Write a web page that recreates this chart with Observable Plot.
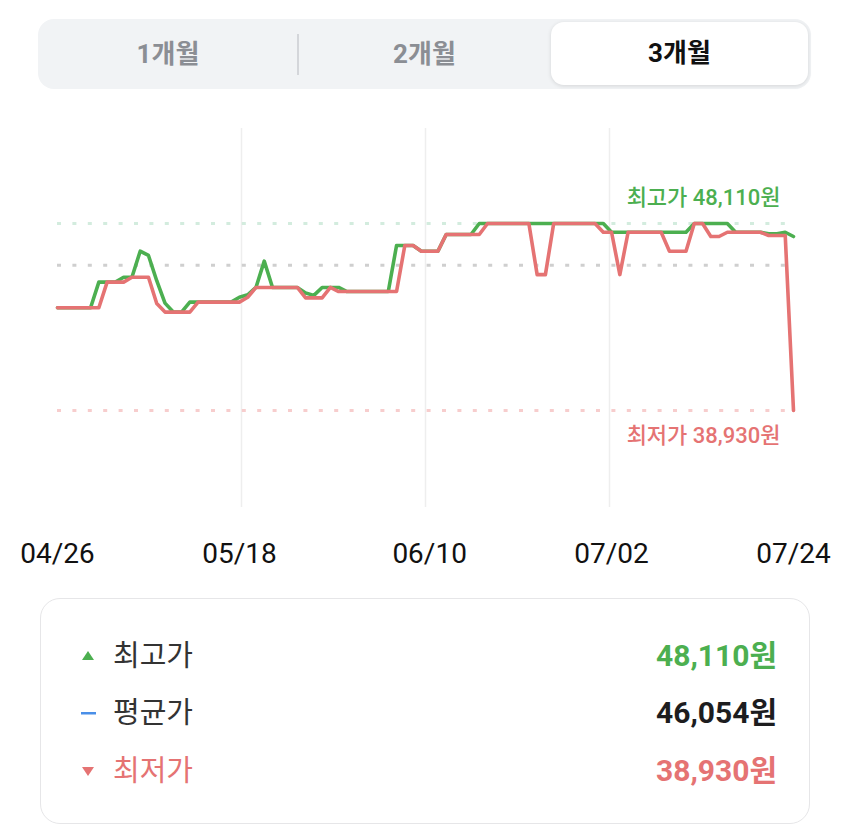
<!DOCTYPE html>
<html><head><meta charset="utf-8">
<script src="https://cdn.jsdelivr.net/npm/d3@7"></script>
<script src="https://cdn.jsdelivr.net/npm/@observablehq/plot@0.6"></script>
<style>
body{margin:0;background:#fff;font-family:Roboto,"Noto Sans CJK KR",sans-serif;}
#wrap{position:relative;width:850px;height:824px;overflow:hidden;background:#fff;}
.tabs{position:absolute;left:38px;top:19px;width:773px;height:70px;background:#f1f3f5;border-radius:16px;}
.tab{position:absolute;top:0;height:70px;line-height:70px;text-align:center;font-size:26px;font-weight:700;color:#8b8e94;}
.tab.sel{background:#fff;border-radius:13px;top:3px;height:63px;line-height:63px;color:#111;box-shadow:0 1px 4px rgba(0,0,0,0.12);}
.divider{position:absolute;left:259px;top:15px;width:1.5px;height:41px;background:#d4d6da;}
#chart{position:absolute;left:0;top:100px;}
.legend{position:absolute;left:40px;top:598px;width:770px;height:226px;box-sizing:border-box;border:1.5px solid #e6e6e8;border-radius:20px;}
.row{position:absolute;left:0;width:100%;height:40px;}
.icon{position:absolute;left:40px;top:14px;}
.lab{position:absolute;left:72px;top:0;font-size:29px;line-height:40px;color:#333;}
.val{position:absolute;right:32px;top:0;font-size:30px;line-height:40px;font-weight:700;}
</style></head>
<body><div id="wrap">
<div class="tabs" id="tabs"></div>
<div id="chart"></div>
<div class="legend" id="legend"></div>
</div>
<script>
// ---- data ----
const tabLabels = ["1개월", "2개월", "3개월"];
const startDate = "2024-04-26";
const endDate = "2024-07-24";
const tickLabels = ["04/26", "05/18", "06/10", "07/02", "07/24"];
const lineGreen = [
  43970,43970,43970,43970,43970,45230,45230,45230,45470,45470,
  46750,46540,45300,44200,43760,43760,44250,44250,44250,44250,
  44250,44250,44490,44610,44970,46260,44970,44970,44970,44970,
  44700,44580,44970,44970,44970,44770,44770,44770,44770,44770,
  44770,47030,47030,47030,46750,46750,46750,47570,47570,47570,
  47570,48110,48110,48110,48110,48110,48110,48110,48110,48110,
  48110,48110,48110,48110,48110,48110,48110,47680,47680,47680,
  47680,47680,47680,47680,47680,47680,47680,48110,48110,48110,
  48110,48110,47680,47680,47680,47680,47600,47600,47680,47470
];
const lineRed = [
  43970,43970,43970,43970,43970,43970,45230,45230,45230,45470,
  45470,45470,44180,43760,43760,43760,43760,44250,44250,44250,
  44250,44250,44250,44490,44970,44970,44970,44970,44970,44970,
  44460,44460,44460,44970,44770,44770,44770,44770,44770,44770,
  44770,44770,47030,47030,46750,46750,46750,47570,47570,47570,
  47570,47570,48110,48110,48110,48110,48110,48110,45600,45600,
  48110,48110,48110,48110,48110,48110,47680,47680,45600,47680,
  47680,47680,47680,47680,46750,46750,46750,48110,48110,47470,
  47470,47680,47680,47680,47680,47680,47520,47520,47520,38930
];
const summaryLabels = ["최고가", "평균가", "최저가"];
const summaryValues = [48110, 46054, 38930];
// ---- colors ----
const GREEN = "#4CAF50", RED = "#E57373", BLUE = "#4A8FE8";

const fmt = d3.format(",");
const parse = d3.utcParse("%Y-%m-%d");
const d0 = parse(startDate), d1 = parse(endDate);
const dates = d3.utcDay.range(d0, d3.utcDay.offset(d1, 1));
const rows = dates.map((d, i) => ({date: d, green: lineGreen[i], red: lineRed[i]}));
const maxP = summaryValues[0], avgP = summaryValues[1], minP = summaryValues[2];
const range = maxP - minP;
const tickDates = tickLabels.map(s => parse(startDate.slice(0,4) + "-" + s.replace("/", "-")));
const gridDates = [0.25, 0.5, 0.75].map(t => new Date(+d0 + t * (d1 - d0)));

// tabs
const tabs = document.getElementById("tabs");
const tabSpans = [[0, 260], [260, 513], [513, 770]];
tabLabels.forEach((t, i) => {
  const el = document.createElement("div");
  el.className = "tab" + (i === 2 ? " sel" : "");
  el.style.left = tabSpans[i][0] + "px";
  el.style.width = (tabSpans[i][1] - tabSpans[i][0]) + "px";
  el.textContent = t;
  tabs.appendChild(el);
});
const dv = document.createElement("div"); dv.className = "divider"; tabs.appendChild(dv);

// chart
const chart = Plot.plot({
  width: 850, height: 490,
  marginLeft: 57, marginRight: 57, marginTop: 28, marginBottom: 83,
  style: {fontFamily: "Roboto, 'Noto Sans CJK KR', sans-serif", overflow: "visible", background: "transparent"},
  x: {type: "utc", domain: [d0, d1]},
  y: {domain: [minP - 0.519 * range, maxP + 0.508 * range], axis: null},
  marks: [
    Plot.ruleX(gridDates, {stroke: "#eeeeee", strokeWidth: 1.5}),
    Plot.ruleY([maxP], {stroke: "#d3ecde", strokeWidth: 3, strokeDasharray: "4,11.4"}),
    Plot.ruleY([avgP], {stroke: "#cfcfcf", strokeWidth: 3, strokeDasharray: "4,11.4"}),
    Plot.ruleY([minP], {stroke: "#f7cdcd", strokeWidth: 3, strokeDasharray: "4,11.4"}),
    Plot.line(rows, {x: "date", y: "green", stroke: GREEN, strokeWidth: 3.6, strokeLinejoin: "round"}),
    Plot.line(rows, {x: "date", y: "red", stroke: RED, strokeWidth: 3.6, strokeLinejoin: "round"}),
    Plot.text([maxP], {x: () => d1, y: d => d, text: d => `최고가 ${fmt(d)}원`, textAnchor: "end", dx: -13, dy: -26, fill: GREEN, fontSize: 22, fontWeight: 500}),
    Plot.text([minP], {x: () => d1, y: d => d, text: d => `최저가 ${fmt(d)}원`, textAnchor: "end", dx: -13, dy: 25, fill: RED, fontSize: 22, fontWeight: 500}),
    Plot.axisX({ticks: tickDates, tickFormat: (d, i) => tickLabels[i], tickSize: 0, tickPadding: 36, fontSize: 28, color: "#111"})
  ]
});
document.getElementById("chart").appendChild(chart);

// legend
const legend = document.getElementById("legend");
const rowTops = [37, 94, 152];
const valColors = [GREEN, "#1d1d1f", RED];
const labColors = ["#333", "#333", RED];
summaryLabels.forEach((lab, i) => {
  const r = document.createElement("div");
  r.className = "row"; r.style.top = rowTops[i] + "px";
  let icon;
  if (i === 0) icon = `<svg class="icon" width="14" height="12"><path d="M7 1 L13 10 L1 10 Z" fill="${GREEN}"/></svg>`;
  else if (i === 1) icon = `<svg class="icon" width="16" height="12"><rect x="0" y="5" width="15" height="2.5" fill="${BLUE}"/></svg>`;
  else icon = `<svg class="icon" width="14" height="12"><path d="M1 2 L13 2 L7 11 Z" fill="${RED}"/></svg>`;
  r.innerHTML = icon + `<div class="lab" style="color:${labColors[i]}">${lab}</div><div class="val" style="color:${valColors[i]}">${fmt(summaryValues[i])}원</div>`;
  legend.appendChild(r);
});
</script>
</body></html>
